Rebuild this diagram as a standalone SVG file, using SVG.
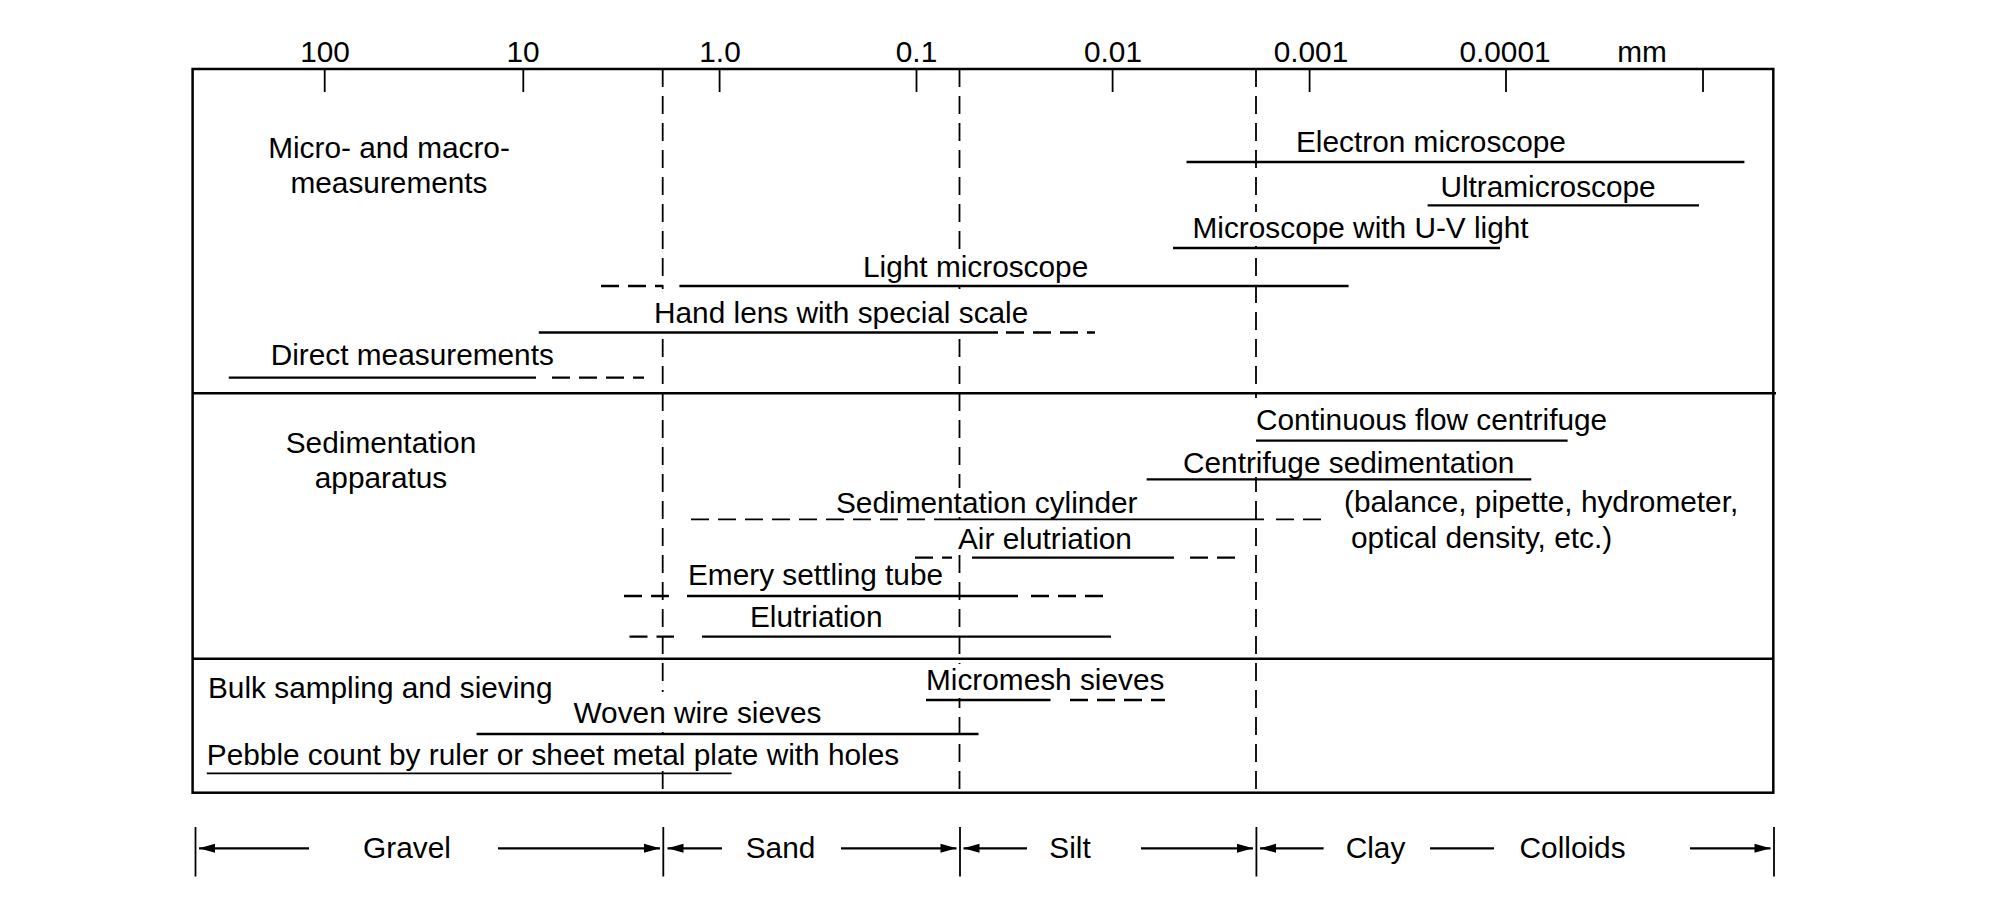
<svg xmlns="http://www.w3.org/2000/svg" width="2008" height="911" viewBox="0 0 2008 911">
<style>
text{font-family:"Liberation Sans",Arial,Helvetica,sans-serif;font-size:29.8px;fill:#000}
.c{text-anchor:middle}
.ln{stroke:#000;stroke-width:2.3;fill:none}
.dl{stroke:#000;stroke-width:2.3;fill:none;stroke-dasharray:18 9}
.grid{stroke:#000;stroke-width:1.8;fill:none;stroke-dasharray:18 9}
.tick{stroke:#000;stroke-width:1.8}
.frame{stroke:#000;stroke-width:2.5;fill:none}
.ko{fill:#fff}
.ar{stroke:#000;stroke-width:2.2;fill:none;marker-end:url(#ah)}
.bar{stroke:#000;stroke-width:1.8}
</style>
<defs>
<marker id="ah" markerUnits="userSpaceOnUse" markerWidth="20" markerHeight="12" viewBox="-17 -6 18 12" refX="0" refY="0" orient="auto">
<path d="M0,0 L-16,-4.5 L-16,4.5 Z" fill="#000"/>
</marker>
</defs>
<rect width="2008" height="911" fill="#fff"/>

<g id="scale">
<g class="tick">
<line x1="324.7" y1="69" x2="324.7" y2="92"/>
<line x1="523.3" y1="69" x2="523.3" y2="92"/>
<line x1="719.6" y1="69" x2="719.6" y2="92"/>
<line x1="916.5" y1="69" x2="916.5" y2="92"/>
<line x1="1112.6" y1="69" x2="1112.6" y2="92"/>
<line x1="1309.6" y1="69" x2="1309.6" y2="92"/>
<line x1="1506" y1="69" x2="1506" y2="92"/>
<line x1="1703" y1="69" x2="1703" y2="92"/>
</g>
<text class="c" x="325" y="62">100</text>
<text class="c" x="523" y="62">10</text>
<text class="c" x="720" y="62">1.0</text>
<text class="c" x="916.5" y="62">0.1</text>
<text class="c" x="1113" y="62">0.01</text>
<text class="c" x="1311" y="62">0.001</text>
<text class="c" x="1505" y="62">0.0001</text>
<text class="c" x="1642" y="62">mm</text>
</g>

<g id="frame">
<rect class="frame" x="192.6" y="69" width="1580.7" height="723.7"/>
<line class="frame" x1="192.6" y1="393.3" x2="1776" y2="393.3"/>
<line class="frame" x1="192.6" y1="658.7" x2="1773.3" y2="658.7"/>
</g>

<g id="class-boundaries">
<line class="grid" x1="662.7" y1="69" x2="662.7" y2="792.7"/>
<line class="grid" x1="959.5" y1="69" x2="959.5" y2="792.7"/>
<line class="grid" x1="1256" y1="69" x2="1256" y2="792.7"/>
</g>

<g id="label-backgrounds">
<rect class="ko" x="860" y="252" width="230" height="32"/>
<rect class="ko" x="650" y="289" width="380" height="42"/>
<rect class="ko" x="1188" y="212" width="342" height="34"/>
<rect class="ko" x="1250" y="398" width="320" height="40"/>
<rect class="ko" x="1180" y="442" width="325" height="35"/>
<rect class="ko" x="832" y="488" width="308" height="29"/>
<rect class="ko" x="955" y="526" width="180" height="29"/>
<rect class="ko" x="922" y="664" width="244" height="34"/>
<rect class="ko" x="570" y="692" width="252" height="40"/>
<rect class="ko" x="204" y="737" width="698" height="34"/>
</g>

<g id="section-titles">
<text class="c" x="389" y="158">Micro- and macro-</text>
<text class="c" x="389" y="193">measurements</text>
<text class="c" x="381" y="453">Sedimentation</text>
<text class="c" x="381" y="487.5">apparatus</text>
<text x="208" y="697.5">Bulk sampling and sieving</text>
</g>

<g id="electron-microscope">
<line class="ln" x1="1186.5" y1="162" x2="1744.4" y2="162"/>
<text x="1296" y="151.7">Electron microscope</text>
</g>
<g id="ultramicroscope">
<line class="ln" x1="1427.6" y1="205.3" x2="1699" y2="205.3"/>
<text x="1440.4" y="196.7">Ultramicroscope</text>
</g>
<g id="uv-microscope">
<line class="ln" x1="1173" y1="248" x2="1500" y2="248"/>
<text x="1192.5" y="238.3">Microscope with U-V light</text>
</g>
<g id="light-microscope">
<line class="dl" x1="601" y1="286" x2="663" y2="286"/>
<line class="ln" x1="679.4" y1="286" x2="1348.6" y2="286"/>
<text x="863" y="276.7">Light microscope</text>
</g>
<g id="hand-lens">
<line class="ln" x1="538.8" y1="332.5" x2="998" y2="332.5"/>
<line class="dl" x1="1006" y1="332.5" x2="1095" y2="332.5"/>
<text x="654" y="323.3">Hand lens with special scale</text>
</g>
<g id="direct-measurements">
<line class="ln" x1="228.8" y1="377.7" x2="536" y2="377.7"/>
<line class="dl" x1="552" y1="377.7" x2="644" y2="377.7"/>
<text x="270.7" y="365">Direct measurements</text>
</g>

<g id="continuous-flow-centrifuge">
<line class="ln" x1="1256" y1="440.7" x2="1567.6" y2="440.7"/>
<text x="1256" y="430">Continuous flow centrifuge</text>
</g>
<g id="centrifuge-sedimentation">
<line class="ln" x1="1146.6" y1="479.3" x2="1531.3" y2="479.3"/>
<text x="1183" y="473">Centrifuge sedimentation</text>
</g>
<g id="sedimentation-cylinder">
<line class="dl" x1="691" y1="519.3" x2="950" y2="519.3" style="stroke-width:1.8"/>
<line class="ln" x1="950" y1="519.3" x2="1264" y2="519.3" style="stroke-width:1.8"/>
<line class="dl" x1="1276" y1="519.3" x2="1321" y2="519.3" style="stroke-width:1.8"/>
<text x="836" y="512.7">Sedimentation cylinder</text>
<text x="1344" y="511.7">(balance, pipette, hydrometer,</text>
<text x="1351" y="548.3">optical density, etc.)</text>
</g>
<g id="air-elutriation">
<line class="dl" x1="915" y1="557.7" x2="952" y2="557.7"/>
<line class="ln" x1="972" y1="557.7" x2="1174" y2="557.7"/>
<line class="dl" x1="1190" y1="557.7" x2="1238" y2="557.7"/>
<text x="958" y="549.3">Air elutriation</text>
</g>
<g id="emery-settling-tube">
<line class="dl" x1="624" y1="596" x2="669" y2="596"/>
<line class="ln" x1="687" y1="596" x2="1018" y2="596"/>
<line class="dl" x1="1031" y1="596" x2="1104" y2="596"/>
<text x="688" y="585">Emery settling tube</text>
</g>
<g id="elutriation">
<line class="dl" x1="629.5" y1="636.7" x2="674" y2="636.7"/>
<line class="ln" x1="702" y1="636.7" x2="1111" y2="636.7"/>
<text x="750" y="626.7">Elutriation</text>
</g>

<g id="micromesh-sieves">
<line class="ln" x1="926" y1="700" x2="1050.5" y2="700"/>
<line class="dl" x1="1070" y1="700" x2="1165" y2="700"/>
<text x="926" y="690">Micromesh sieves</text>
</g>
<g id="woven-wire-sieves">
<line class="ln" x1="476.6" y1="734" x2="978.5" y2="734"/>
<text x="573.5" y="723">Woven wire sieves</text>
</g>
<g id="pebble-count">
<line class="ln" x1="206.8" y1="773.3" x2="731.6" y2="773.3" style="stroke-width:1.8"/>
<text x="206.8" y="764.5">Pebble count by ruler or sheet metal plate with holes</text>
</g>

<g id="connectors">
<g class="bar">
<line x1="195.5" y1="827" x2="195.5" y2="876.5"/>
<line x1="663.3" y1="827" x2="663.3" y2="876.5"/>
<line x1="960" y1="827" x2="960" y2="876.5"/>
<line x1="1256.4" y1="827" x2="1256.4" y2="876.5"/>
<line x1="1774" y1="827" x2="1774" y2="876.5"/>
</g>
<line class="ar" x1="309" y1="848.3" x2="199" y2="848.3"/>
<line class="ar" x1="498" y1="848.3" x2="660" y2="848.3"/>
<line class="ar" x1="722" y1="848.3" x2="667.5" y2="848.3"/>
<line class="ar" x1="841" y1="848.3" x2="956.5" y2="848.3"/>
<line class="ar" x1="1027" y1="848.3" x2="963.5" y2="848.3"/>
<line class="ar" x1="1141" y1="848.3" x2="1253" y2="848.3"/>
<line class="ar" x1="1323.6" y1="848.3" x2="1260" y2="848.3"/>
<line class="ln" x1="1430" y1="848.3" x2="1494" y2="848.3" style="stroke-width:2.2"/>
<line class="ar" x1="1690" y1="848.3" x2="1770.5" y2="848.3"/>
</g>

<g id="size-classes">
<text class="c" x="407" y="858">Gravel</text>
<text class="c" x="780.5" y="858">Sand</text>
<text class="c" x="1070" y="858">Silt</text>
<text class="c" x="1375.5" y="858">Clay</text>
<text class="c" x="1572.6" y="858">Colloids</text>
</g>
</svg>
